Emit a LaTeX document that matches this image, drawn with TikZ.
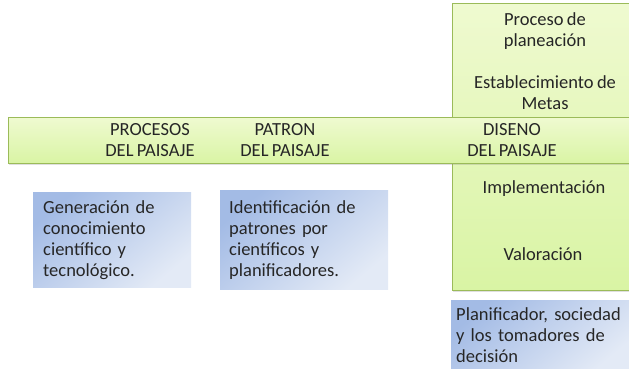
\documentclass[tikz,border=0pt]{standalone}
\usepackage{fontspec}
\setmainfont{Carlito}[WordSpace=0.8]
\usepackage{tikz}
\usetikzlibrary{shadows}
\definecolor{gline}{HTML}{9BBB59}
\definecolor{gtop}{HTML}{EFFAD0}
\definecolor{gbot}{HTML}{D9F4A4}
\definecolor{btop}{HTML}{A3BBE5}
\definecolor{bbot}{HTML}{E3EAF6}
\definecolor{ink}{HTML}{262626}
\tikzstyle{greenbox}=[draw=gline,line width=0.8pt,top color=gtop,bottom color=gbot,drop shadow={opacity=0.25,shadow xshift=1pt,shadow yshift=-2pt},inner sep=0pt,anchor=north west]
\tikzstyle{bluebox}=[top color=btop,bottom color=bbot,shading angle=40,anchor=north west,align=left,text=ink]
\tikzstyle{label}=[text=ink,align=center,inner sep=0pt]

\begin{document}
\begin{tikzpicture}[x=1pt,y=-1pt,font=\fontsize{18.5}{21}\selectfont]
      \useasboundingbox (0,0) rectangle (629,368);
      \node[greenbox,minimum width=185pt,minimum height=287pt] (plan) at (452,3) {};
      \node[greenbox,minimum width=630pt,minimum height=46pt] (bar) at (8,117) {};
      \node[bluebox,minimum width=158pt,minimum height=95pt,text width=138pt,inner xsep=10pt] (gen) at (33,192)
        {Generación de\\conocimiento\\científico y\\tecnológico.};
      \node[bluebox,minimum width=168pt,minimum height=99pt,text width=150pt,inner xsep=9pt] (ide) at (220,190)
        {Identificación de\\patrones por\\científicos y\\planificadores.};
      \node[bluebox,minimum width=180pt,minimum height=70pt,text width=172pt,inner xsep=5pt] (pla) at (451,300)
        {Planificador, sociedad\\y los tomadores de\\decisión};
      \node[label] (pro) at (150,140) {PROCESOS\\DEL PAISAJE};
      \node[label] (pat) at (285,140) {PATRON\\DEL PAISAJE};
      \node[label] (dis) at (512,140) {DISENO\\DEL PAISAJE};
      \node[label] (met) at (545,61) {Proceso de\\planeación\\[21pt]Establecimiento de\\Metas};
      \node[label] (imp) at (544,189) {Implementación};
      \node[label] (val) at (543,254) {Valoración};
    \end{tikzpicture}
\end{document}
